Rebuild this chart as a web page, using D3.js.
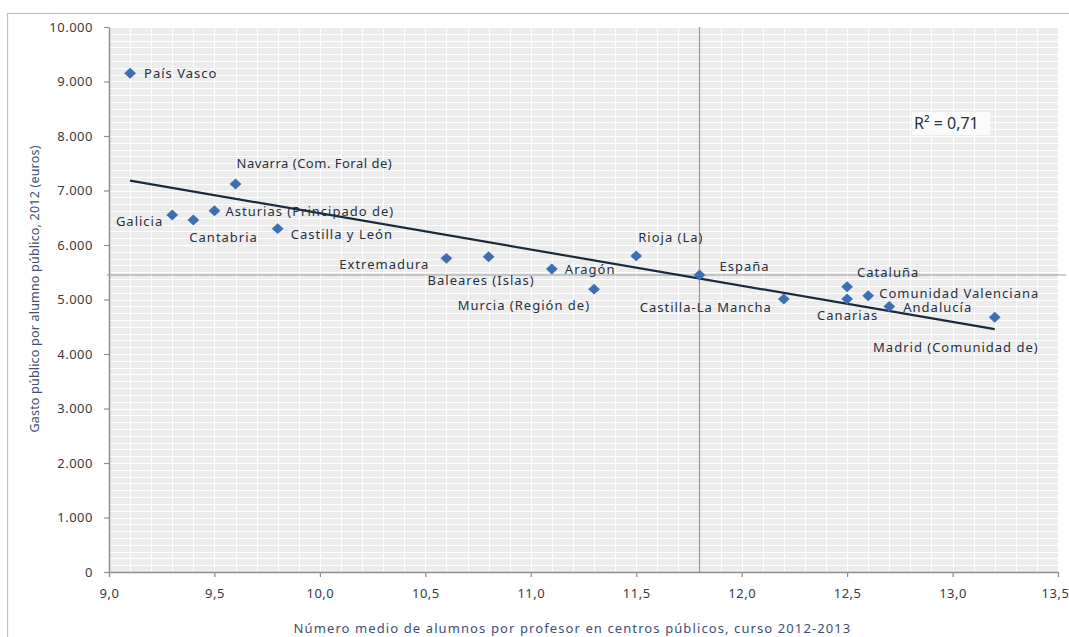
<!DOCTYPE html>
<html><head><meta charset="utf-8">
<script src="https://cdn.jsdelivr.net/npm/d3@7"></script>
<style>
body{margin:0;background:#fff;}
svg text{font-family:"Noto Sans",sans-serif;}
</style></head><body>
<svg id="c" width="1069" height="637"></svg>
<script>
// ---------- DATA ----------
const regions = ["País Vasco","Galicia","Cantabria","Asturias (Principado de)","Navarra (Com. Foral de)","Castilla y León","Extremadura","Baleares (Islas)","Aragón","Murcia (Región de)","Rioja (La)","España","Castilla-La Mancha","Cataluña","Canarias","Comunidad Valenciana","Andalucía","Madrid (Comunidad de)"];
const alumnosPorProfesor = [9.1,9.3,9.4,9.5,9.6,9.8,10.6,10.8,11.1,11.3,11.5,11.8,12.2,12.5,12.5,12.6,12.7,13.2];
const gastoPorAlumno = [9150,6550,6460,6630,7120,6300,5755,5785,5560,5190,5800,5450,5010,5235,5010,5070,4870,4675];
const xTicks = [9.0,9.5,10.0,10.5,11.0,11.5,12.0,12.5,13.0,13.5];
const yTicks = [0,1000,2000,3000,4000,5000,6000,7000,8000,9000,10000];
const trendX = [9.1, 13.2];
const trendY = [7180, 4455];
const referenceRegion = "España";
const r2Text = "R² = 0,71";
const xTitle = "Número medio de alumnos por profesor en centros públicos,  curso 2012-2013";
const yTitle = "Gasto público por alumno público, 2012 (euros)";

// ---------- LAYOUT (label placement, px offsets from the point) ----------
const labelLayout = {
  "País Vasco":[14,0,"start"],
  "Galicia":[-9,6,"end"],
  "Cantabria":[-4,18,"start"],
  "Asturias (Principado de)":[11,1,"start"],
  "Navarra (Com. Foral de)":[1,-21,"start"],
  "Castilla y León":[13,6,"start"],
  "Extremadura":[-17,6,"end"],
  "Baleares (Islas)":[-61,24,"start"],
  "Aragón":[13,0,"start"],
  "Murcia (Región de)":[-4,16,"end"],
  "Rioja (La)":[2,-18,"start"],
  "España":[20,-9,"start"],
  "Castilla-La Mancha":[-12,8,"end"],
  "Cataluña":[10,-14,"start"],
  "Canarias":[-30,16,"start"],
  "Comunidad Valenciana":[11,-2,"start"],
  "Andalucía":[14,1,"start"],
  "Madrid (Comunidad de)":[44,30,"end"]
};

const svg = d3.select("#c");
const X0=109, X1=1058, Y0=572, Y1=27;
const x = d3.scaleLinear().domain([9,13.5]).range([X0,X1]);
const y = d3.scaleLinear().domain([0,10000]).range([Y0,Y1]);
const loc = d3.formatLocale({decimal:",",thousands:".",grouping:[3],currency:["","€"]});
const fy = loc.format(",d"), fx = loc.format(".1f");

// outer chart border
svg.append("rect").attr("x",7.5).attr("y",13.5).attr("width",1100).attr("height",700)
  .attr("fill","none").attr("stroke","#b9c3d6").attr("stroke-width",1.2);

// plot background
svg.append("rect").attr("x",X0).attr("y",Y1).attr("width",X1-X0).attr("height",Y0-Y1).attr("fill","#ececec");

// minor grid
const g = svg.append("g").attr("stroke","#ffffff").attr("stroke-width",1);
g.selectAll("line.v").data(d3.ticks(9,13.5,45)).join("line")
  .attr("x1",d=>Math.round(x(d))+0.5).attr("x2",d=>Math.round(x(d))+0.5).attr("y1",Y1).attr("y2",Y0);
g.selectAll("line.h").data(d3.range(0,10001,125)).join("line")
  .attr("y1",d=>Math.round(y(d))+0.5).attr("y2",d=>Math.round(y(d))+0.5).attr("x1",X0).attr("x2",X1);

// reference lines (España)
const ri = regions.indexOf(referenceRegion);
svg.append("line").attr("x1",x(alumnosPorProfesor[ri])).attr("x2",x(alumnosPorProfesor[ri]))
  .attr("y1",Y1).attr("y2",Y0).attr("stroke","#9b9b9b").attr("stroke-width",1.2);
svg.append("line").attr("x1",X0-2).attr("x2",X1+8)
  .attr("y1",y(gastoPorAlumno[ri])).attr("y2",y(gastoPorAlumno[ri])).attr("stroke","#9b9b9b").attr("stroke-width",1.2);

// axes
const ay = svg.append("g").attr("transform",`translate(${X0},0)`)
  .call(d3.axisLeft(y).tickValues(yTicks).tickFormat(fy).tickSize(5).tickSizeOuter(0).tickPadding(11));
const ax = svg.append("g").attr("transform",`translate(0,${Y0})`)
  .call(d3.axisBottom(x).tickValues(xTicks).tickFormat(fx).tickSize(5).tickSizeOuter(0).tickPadding(12));
[ax,ay].forEach(a=>{
  a.select(".domain").attr("stroke","#8e8e8e").attr("stroke-width",1.5);
  a.selectAll(".tick line").attr("stroke","#8e8e8e").attr("stroke-width",1.2);
  a.selectAll(".tick text").attr("fill","#3a3a3a").style("font-size","13px").style("letter-spacing","0.5px")
   .style("font-family","'Noto Sans',sans-serif");
});
ax.selectAll(".tick text").filter(d=>d===13.5).attr("dx",-3);

// trend line
const pts = trendX.map((v,i)=>[x(v),y(trendY[i])]);
svg.append("path").attr("d",d3.line()(pts)).attr("stroke","#1b2a3c").attr("stroke-width",2.2).attr("fill","none");

// points
const sym = d3.symbol().type(d3.symbolDiamond2).size(76);
svg.append("g").selectAll("path").data(regions).join("path")
  .attr("d",sym).attr("fill","#3e6fb3")
  .attr("transform",(d,i)=>`translate(${x(alumnosPorProfesor[i])},${y(gastoPorAlumno[i])}) scale(1.08,1)`);

// labels
svg.append("g").selectAll("text").data(regions).join("text")
  .attr("x",(d,i)=>x(alumnosPorProfesor[i])+labelLayout[d][0])
  .attr("y",(d,i)=>y(gastoPorAlumno[i])+labelLayout[d][1])
  .attr("dy","0.35em").attr("text-anchor",d=>labelLayout[d][2])
  .attr("fill","#27303f").style("font-size","13px")
  .style("letter-spacing",d=>d.startsWith("Navarra")?"0.5px":"1px")
  .text(d=>d);

// R² box
svg.append("rect").attr("x",912).attr("y",112).attr("width",78).attr("height",23).attr("fill","#fbfbfb");
svg.append("text").attr("x",914).attr("y",123).attr("dy","0.35em").attr("fill","#27303f")
  .style("font-size","16px").text(r2Text);

// axis titles
svg.append("text").attr("x",(X0+X1)/2-11).attr("y",628).attr("dy","0.35em").attr("text-anchor","middle")
  .attr("fill","#3d5075").style("font-size","13px").style("letter-spacing","1.1px").text(xTitle);
svg.append("text").attr("transform","translate(35,289) rotate(-90)").attr("dy","0.35em").attr("text-anchor","middle")
  .attr("fill","#3d5075").style("font-size","12.5px").style("letter-spacing","0.2px").text(yTitle);
</script></body></html>
